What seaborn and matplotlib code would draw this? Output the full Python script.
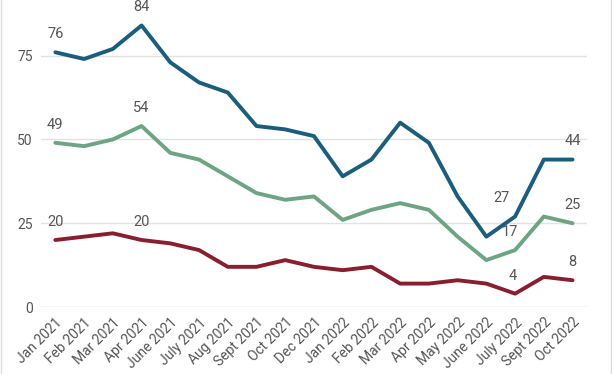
import pandas as pd
import matplotlib
matplotlib.use("Agg")
import matplotlib.pyplot as plt
from matplotlib.lines import Line2D
import seaborn as sns

# data
months = ["Jan 2021", "Feb 2021", "Mar 2021", "Apr 2021", "June 2021", "July 2021",
          "Aug 2021", "Sept 2021", "Oct 2021", "Dec 2021", "Jan 2022", "Feb 2022",
          "Mar 2022", "Apr 2022", "May 2022", "June 2022", "July 2022", "Sept 2022",
          "Oct 2022"]
blue_vals = [76, 74, 77, 84, 73, 67, 64, 54, 53, 51, 39, 44, 55, 49, 33, 21, 27, 44, 44]
green_vals = [49, 48, 50, 54, 46, 44, 39, 34, 32, 33, 26, 29, 31, 29, 21, 14, 17, 27, 25]
red_vals = [20, 21, 22, 20, 19, 17, 12, 12, 14, 12, 11, 12, 7, 7, 8, 7, 4, 9, 8]
y_ticks = [0, 25, 50, 75]

series = {"blue": blue_vals, "green": green_vals, "red": red_vals}
colors = {"blue": "#1a5d7d", "green": "#6da583", "red": "#891e2f"}

rows = []
for name, vals in series.items():
    for i, v in enumerate(vals):
        rows.append({"idx": i, "value": v, "series": name})
df = pd.DataFrame(rows)

sns.set_theme(style="white")
plt.rcParams["font.family"] = ["Roboto", "DejaVu Sans"]

fig = plt.figure(figsize=(6.12, 3.74), dpi=100)
ax = fig.add_axes([0.067, 0.179, 0.892, 0.821])

sns.lineplot(data=df, x="idx", y="value", hue="series", palette=colors,
             linewidth=2.8, legend=False, ax=ax)

ax.set_xlim(-0.5, len(months) - 0.5)
ax.set_ylim(0, 91.6)
ax.set_yticks(y_ticks)
ax.set_xticks(range(len(months)))
ax.set_xticklabels(months, rotation=45, ha="right", rotation_mode="anchor")
ax.tick_params(axis="both", length=0, labelsize=10, labelcolor="#555555", pad=6)
ax.yaxis.grid(True, color="#e2e2e2", linewidth=1)
ax.set_axisbelow(True)
for s in ax.spines.values():
    s.set_visible(False)
ax.axhline(0, color="#e2e2e2", linewidth=1, zorder=0)
ax.set_xlabel("")
ax.set_ylabel("")

# point labels: (series, index, dx, dy) offsets in points
labels = [("blue", 0, 0, 8), ("blue", 3, 0, 8), ("blue", 18, 0, 8), ("blue", 16, -10, 8),
          ("green", 0, 0, 8), ("green", 3, 0, 8), ("green", 18, 0, 8), ("green", 16, -4, 8),
          ("red", 0, 0, 8), ("red", 3, 0, 8), ("red", 18, 0, 8), ("red", 16, -2, 8)]
for name, i, dx, dy in labels:
    v = series[name][i]
    ax.annotate(str(v), (i, v), xytext=(dx, dy), textcoords="offset points",
                ha="center", va="bottom", fontsize=10.5, color="#555555")

# thin frame lines at the figure edges
fig.add_artist(Line2D([0.002, 0.002], [0, 1], transform=fig.transFigure, color="#dddddd", linewidth=1))
fig.add_artist(Line2D([0.998, 0.998], [0, 1], transform=fig.transFigure, color="#dddddd", linewidth=1))

fig.savefig("out.png", dpi=100)
